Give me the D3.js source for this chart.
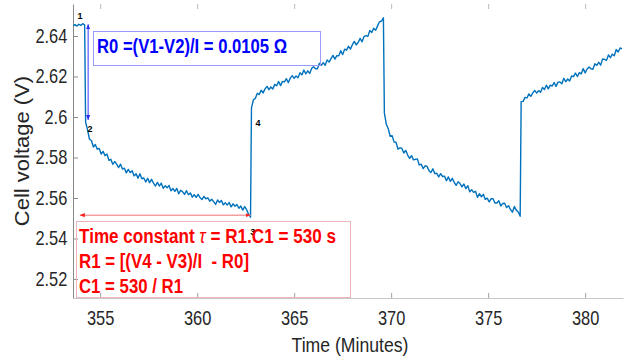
<!DOCTYPE html>
<html>
<head>
<meta charset="utf-8">
<script src="https://cdn.jsdelivr.net/npm/d3@7"></script>
<style>
  body { margin: 0; background: #fff; }
  svg { display: block; font-family: "Liberation Sans", Arial, Helvetica, sans-serif; }
</style>
</head>
<body>
<svg id="chart" width="634" height="360"></svg>
<script>
// one sample every 6 s (0.1 min)
const sampleStep = 0.1;

const restStart = 353.6;
const restVolts = [2.6450, 2.6456, 2.6449, 2.6458, 2.6452, 2.6461, 2.6455];

const relax1Start = 354.25;
const relax1Volts = [
  2.5975, 2.5936, 2.5890, 2.5884, 2.5852, 2.5864, 2.5841, 2.5845, 2.5817, 2.5830,
  2.5809, 2.5817, 2.5786, 2.5791, 2.5766, 2.5780, 2.5767, 2.5750, 2.5767, 2.5743,
  2.5747, 2.5724, 2.5741, 2.5725, 2.5734, 2.5709, 2.5720, 2.5698, 2.5720, 2.5695,
  2.5699, 2.5679, 2.5697, 2.5676, 2.5692, 2.5673, 2.5659, 2.5677, 2.5659, 2.5673,
  2.5648, 2.5660, 2.5650, 2.5662, 2.5635, 2.5647, 2.5632, 2.5647, 2.5621, 2.5638,
  2.5630, 2.5618, 2.5636, 2.5616, 2.5625, 2.5604, 2.5616, 2.5603, 2.5618, 2.5601,
  2.5592, 2.5608, 2.5596, 2.5601, 2.5584, 2.5594, 2.5582, 2.5568, 2.5590, 2.5578,
  2.5588, 2.5566, 2.5576, 2.5565, 2.5578, 2.5556, 2.5571, 2.5559, 2.5568, 2.5549,
  2.5560, 2.5540, 2.5557, 2.5542, 2.5520, 2.5505
];

const charge1Start = 362.8;
const charge1Volts = [
  2.6045, 2.6085, 2.6092, 2.6117, 2.6111, 2.6132, 2.6119, 2.6139, 2.6151, 2.6135,
  2.6148, 2.6138, 2.6161, 2.6154, 2.6175, 2.6155, 2.6176, 2.6173, 2.6189, 2.6170,
  2.6192, 2.6204, 2.6191, 2.6202, 2.6194, 2.6218, 2.6208, 2.6232, 2.6213, 2.6228,
  2.6215, 2.6240, 2.6248, 2.6238, 2.6238, 2.6265, 2.6255, 2.6268, 2.6255, 2.6282,
  2.6271, 2.6288, 2.6304, 2.6286, 2.6303, 2.6302, 2.6327, 2.6308, 2.6335, 2.6330,
  2.6349, 2.6335, 2.6357, 2.6373, 2.6356, 2.6368, 2.6388, 2.6371, 2.6397, 2.6402,
  2.6398, 2.6427, 2.6417, 2.6438, 2.6428, 2.6450, 2.6470, 2.6474, 2.6490
];

const relax2Start = 369.65;
const relax2Volts = [
  2.6020, 2.5964, 2.5942, 2.5905, 2.5908, 2.5876, 2.5875, 2.5841, 2.5847, 2.5846,
  2.5822, 2.5835, 2.5812, 2.5796, 2.5809, 2.5788, 2.5791, 2.5793, 2.5763, 2.5767,
  2.5745, 2.5759, 2.5756, 2.5735, 2.5726, 2.5744, 2.5720, 2.5722, 2.5704, 2.5720,
  2.5706, 2.5708, 2.5685, 2.5704, 2.5682, 2.5697, 2.5677, 2.5662, 2.5680, 2.5671,
  2.5655, 2.5669, 2.5646, 2.5661, 2.5630, 2.5641, 2.5628, 2.5633, 2.5603, 2.5621,
  2.5606, 2.5618, 2.5593, 2.5599, 2.5581, 2.5596, 2.5596, 2.5575, 2.5575, 2.5586,
  2.5560, 2.5573, 2.5574, 2.5553, 2.5562, 2.5543, 2.5530, 2.5558, 2.5540, 2.5531,
  2.5510
];

const charge2Start = 376.7;
const charge2Volts = [
  2.6076, 2.6077, 2.6097, 2.6094, 2.6114, 2.6102, 2.6119, 2.6131, 2.6118, 2.6130,
  2.6122, 2.6146, 2.6136, 2.6157, 2.6139, 2.6157, 2.6153, 2.6170, 2.6151, 2.6172,
  2.6173, 2.6164, 2.6191, 2.6174, 2.6188, 2.6178, 2.6203, 2.6199, 2.6217, 2.6200,
  2.6219, 2.6213, 2.6239, 2.6218, 2.6237, 2.6247, 2.6238, 2.6236, 2.6263, 2.6255,
  2.6270, 2.6256, 2.6287, 2.6284, 2.6280, 2.6306, 2.6293, 2.6310, 2.6302, 2.6333,
  2.6321, 2.6341, 2.6336
];

// axes
const xDomain = [353.6, 381.95];
const yDomain = [2.5106, 2.6558];
const xTicks = [355, 360, 365, 370, 375, 380];
const xTickLabels = ["355", "360", "365", "370", "375", "380"];
const yTicks = [2.52, 2.54, 2.56, 2.58, 2.6, 2.62, 2.64];
const yTickLabels = ["2.52", "2.54", "2.56", "2.58", "2.6", "2.62", "2.64"];

// numbered points 1..4 (time, voltage)
const pointLabels = ["1", "2", "3", "4"];
const pointTimes = [353.96, 354.48, 362.86, 363.13];
const pointVolts = [2.6484, 2.5926, 2.5417, 2.5956];

// annotation arrows
const r0Arrow = { t: 354.38, v1: 2.6458, v2: 2.5985 };
const tauArrow = { v: 2.5515, t1: 353.95, t2: 362.75 };

const margin = { top: 4, right: 11, bottom: 62, left: 73 };
const width = 634 - margin.left - margin.right;
const height = 360 - margin.top - margin.bottom;
const squeeze = "scale(0.82,1)";

const svg = d3.select("#chart");

const defs = svg.append("defs");
defs.append("clipPath").attr("id", "plotClip")
  .append("rect").attr("width", width).attr("height", height);

function arrowHead(id, color) {
  defs.append("marker")
    .attr("id", id)
    .attr("viewBox", "0 -3 6 6")
    .attr("refX", 6).attr("refY", 0)
    .attr("markerWidth", 5).attr("markerHeight", 5)
    .attr("markerUnits", "userSpaceOnUse")
    .attr("orient", "auto-start-reverse")
    .append("path").attr("d", "M0,-2.5L6,0L0,2.5Z").attr("fill", color);
}
arrowHead("headBlue", "#2a2aff");
arrowHead("headRed", "#ff2020");

const g = svg.append("g")
  .attr("transform", "translate(" + margin.left + "," + margin.top + ")");

const x = d3.scaleLinear().domain(xDomain).range([0, width]);
const y = d3.scaleLinear().domain(yDomain).range([height, 0]);

// build the samples from the segments
const segments = [
  [restStart, restVolts],
  [relax1Start, relax1Volts],
  [charge1Start, charge1Volts],
  [relax2Start, relax2Volts],
  [charge2Start, charge2Volts]
];
const samples = [];
segments.forEach(function (s) {
  s[1].forEach(function (v, i) {
    samples.push({ t: s[0] + i * sampleStep, v: v });
  });
});

// bottom axis
const xAxis = g.append("g")
  .attr("transform", "translate(0," + height + ")")
  .call(d3.axisBottom(x).tickValues(xTicks).tickSize(-5).tickSizeOuter(0).tickPadding(13)
    .tickFormat((d, i) => xTickLabels[i]));
xAxis.select(".domain").attr("stroke", "#c8c8c8");
xAxis.selectAll(".tick line").attr("stroke", "#a0a0a0");
xAxis.selectAll("text").attr("fill", "#262626").style("font-size", "20px").attr("transform", squeeze);

// top ticks only
const topAxis = g.append("g")
  .call(d3.axisTop(x).tickValues(xTicks).tickSize(-5).tickSizeOuter(0).tickFormat(""));
topAxis.select(".domain").remove();
topAxis.selectAll(".tick line").attr("stroke", "#b8b8b8");

// left axis
const yAxis = g.append("g")
  .call(d3.axisLeft(y).tickValues(yTicks).tickSize(-5).tickSizeOuter(0).tickPadding(7)
    .tickFormat((d, i) => yTickLabels[i]));
yAxis.select(".domain").attr("stroke", "#8a8a8a");
yAxis.selectAll(".tick line").attr("stroke", "#8a8a8a");
yAxis.selectAll("text").attr("fill", "#262626").style("font-size", "20px").attr("transform", squeeze);

// axis titles
svg.append("text")
  .attr("transform", "translate(350,352) " + "scale(0.84,1)")
  .attr("text-anchor", "middle")
  .attr("fill", "#262626")
  .style("font-size", "21px")
  .text("Time (Minutes)");

svg.append("text")
  .attr("transform", "translate(29,151) rotate(-90) scale(1,0.88)")
  .attr("text-anchor", "middle")
  .attr("fill", "#262626")
  .style("font-size", "22px")
  .text("Cell voltage (V)");

// the voltage trace
const line = d3.line()
  .x(d => x(d.t))
  .y(d => y(d.v));

g.append("path")
  .datum(samples)
  .attr("clip-path", "url(#plotClip)")
  .attr("fill", "none")
  .attr("stroke", "#0072BD")
  .attr("stroke-width", 1.4)
  .attr("stroke-linejoin", "round")
  .attr("d", line);

// R0 arrow (V1 -> V2)
g.append("line")
  .attr("x1", x(r0Arrow.t)).attr("x2", x(r0Arrow.t))
  .attr("y1", y(r0Arrow.v1)).attr("y2", y(r0Arrow.v2))
  .attr("stroke", "#3a3aff").attr("stroke-width", 1)
  .attr("marker-start", "url(#headBlue)")
  .attr("marker-end", "url(#headBlue)");

// tau arrow
g.append("line")
  .attr("x1", x(tauArrow.t1)).attr("x2", x(tauArrow.t2))
  .attr("y1", y(tauArrow.v)).attr("y2", y(tauArrow.v))
  .attr("stroke", "#f4a0a0").attr("stroke-width", 1.5)
  .attr("marker-start", "url(#headRed)")
  .attr("marker-end", "url(#headRed)");

// point numbers
g.selectAll(".pt")
  .data(pointLabels)
  .join("text")
  .attr("class", "pt")
  .attr("x", (d, i) => x(pointTimes[i]))
  .attr("y", (d, i) => y(pointVolts[i]))
  .attr("text-anchor", "middle")
  .style("font-size", "9px")
  .style("font-weight", "bold")
  .attr("fill", "#000")
  .text(d => d);

// R0 text box
svg.append("rect")
  .attr("x", 93.5).attr("y", 31.5).attr("width", 227).attr("height", 34)
  .attr("fill", "none").attr("stroke", "#9a9aff").attr("stroke-width", 1);

svg.append("text")
  .attr("x", 97).attr("y", 53)
  .attr("fill", "#0000ff")
  .style("font-size", "20px")
  .style("font-weight", "bold")
  .attr("textLength", 190)
  .attr("lengthAdjust", "spacingAndGlyphs")
  .text("R0 =(V1-V2)/I = 0.0105 \u03A9");

// time constant text box
svg.append("rect")
  .attr("x", 76.5).attr("y", 221.5).attr("width", 274).attr("height", 76)
  .attr("fill", "none").attr("stroke", "#ecb4bc").attr("stroke-width", 1);

const tauText = svg.append("text")
  .attr("x", 79).attr("y", 243)
  .attr("fill", "#ff0000")
  .style("font-size", "20px")
  .style("font-weight", "bold")
  .attr("textLength", 257)
  .attr("lengthAdjust", "spacingAndGlyphs");
tauText.append("tspan").text("Time constant ");
tauText.append("tspan").style("font-style", "italic").style("font-weight", "normal").text("\u03C4");
tauText.append("tspan").text(" = R1.C1 = 530 s");

svg.append("text")
  .attr("x", 79).attr("y", 268)
  .attr("fill", "#ff0000")
  .style("font-size", "20px")
  .style("font-weight", "bold")
  .style("white-space", "pre")
  .attr("textLength", 170)
  .attr("lengthAdjust", "spacingAndGlyphs")
  .text("R1 = [(V4 - V3)/I  - R0]");

svg.append("text")
  .attr("x", 79).attr("y", 293)
  .attr("fill", "#ff0000")
  .style("font-size", "20px")
  .style("font-weight", "bold")
  .attr("textLength", 104)
  .attr("lengthAdjust", "spacingAndGlyphs")
  .text("C1 = 530 / R1");
</script>
</body>
</html>
